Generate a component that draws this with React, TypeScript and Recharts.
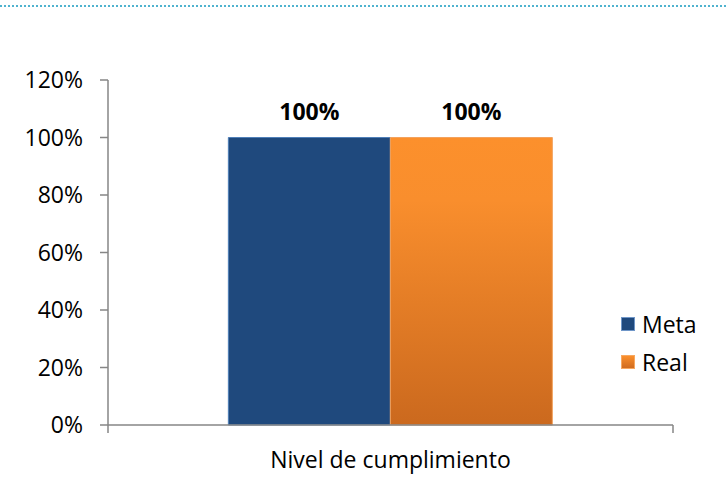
import React from "react";
import { BarChart, Bar, XAxis, YAxis, LabelList } from "recharts";

const categories = ["Nivel de cumplimiento"];
const metaValues = [1.0];
const realValues = [1.0];
const yTicks = [0, 0.2, 0.4, 0.6, 0.8, 1.0, 1.2];
const seriesNames = ["Meta", "Real"];

const data = categories.map((name, i) => ({
  name,
  Meta: metaValues[i],
  Real: realValues[i],
}));

const FONT = "'Open Sans', sans-serif";
const AXIS = "#868686";
const pct = (v: number) => `${Math.round(v * 100)}%`;

const CatTick = (props: any) => {
  const { x, y, payload } = props;
  const half = payload && typeof payload.offset === "number" ? payload.offset : 0;
  return (
    <g>
      {half > 0 && (
        <>
          <line x1={x - half} x2={x - half} y1={y} y2={y + 8} stroke={AXIS} strokeWidth={1.5} />
          <line x1={x + half} x2={x + half} y1={y} y2={y + 8} stroke={AXIS} strokeWidth={1.5} />
        </>
      )}
      <text
        x={x}
        y={y + 27}
        dy="0.71em"
        textAnchor="middle"
        fill="#000"
        fontFamily={FONT}
        fontSize={23}
      >
        {payload.value}
      </text>
    </g>
  );
};

const LegendBox = () => (
  <div
    style={{
      position: "absolute",
      left: 621,
      top: 305,
      fontFamily: FONT,
      fontSize: 23,
      color: "#000",
    }}
  >
    {seriesNames.map((n, i) => (
      <div
        key={n}
        style={{ display: "flex", alignItems: "center", height: 38, lineHeight: "38px" }}
      >
        <div
          style={{
            width: 14,
            height: 14,
            marginRight: 7,
            boxSizing: "border-box",
            background: i === 0 ? "#1f497d" : "linear-gradient(#fb8f2c, #d06c20)",
            border: i === 0 ? "1px solid #6f96c8" : "1px solid #f7a860",
          }}
        />
        <span>{n}</span>
      </div>
    ))}
  </div>
);

export default function App() {
  return (
    <div
      style={{
        position: "absolute",
        left: 0,
        top: 0,
        width: 726,
        height: 492,
        background: "#fff",
        overflow: "hidden",
      }}
    >
      <div
        style={{
          position: "absolute",
          left: 0,
          top: 5,
          width: 726,
          borderTop: "2px dotted #4fb3cf",
        }}
      />
      <BarChart
        width={726}
        height={492}
        data={data}
        margin={{ top: 80, right: 53, left: 0, bottom: 0 }}
        barCategoryGap="21.3%"
        barGap={0}
      >
        <defs>
          <linearGradient id="orangeGrad" x1="0" y1="0" x2="0" y2="1">
            <stop offset="0%" stopColor="#fc902c" />
            <stop offset="22%" stopColor="#f98e2d" />
            <stop offset="100%" stopColor="#cb691e" />
          </linearGradient>
        </defs>
        <XAxis
          dataKey="name"
          height={67}
          axisLine={{ stroke: AXIS, strokeWidth: 1.5 }}
          tickLine={false}
          tickSize={0}
          tickMargin={0}
          tick={<CatTick />}
        />
        <YAxis
          width={108}
          domain={[0, 1.2]}
          ticks={yTicks}
          interval={0}
          tickFormatter={pct}
          axisLine={{ stroke: AXIS, strokeWidth: 1.5 }}
          tickLine={{ stroke: AXIS, strokeWidth: 1.5 }}
          tickSize={8}
          tickMargin={17}
          tick={{ fill: "#000", fontFamily: FONT, fontSize: 23 }}
        />
        <Bar
          dataKey="Meta"
          fill="#1f497d"
          stroke="#4f7fb8"
          strokeWidth={1}
          isAnimationActive={false}
        >
          <LabelList
            dataKey="Meta"
            position="top"
            offset={18}
            formatter={pct}
            style={{ fill: "#000", fontFamily: FONT, fontSize: 23, fontWeight: 700 }}
          />
        </Bar>
        <Bar
          dataKey="Real"
          fill="url(#orangeGrad)"
          stroke="#f3a25e"
          strokeWidth={1}
          isAnimationActive={false}
        >
          <LabelList
            dataKey="Real"
            position="top"
            offset={18}
            formatter={pct}
            style={{ fill: "#000", fontFamily: FONT, fontSize: 23, fontWeight: 700 }}
          />
        </Bar>
      </BarChart>
      <LegendBox />
    </div>
  );
}
